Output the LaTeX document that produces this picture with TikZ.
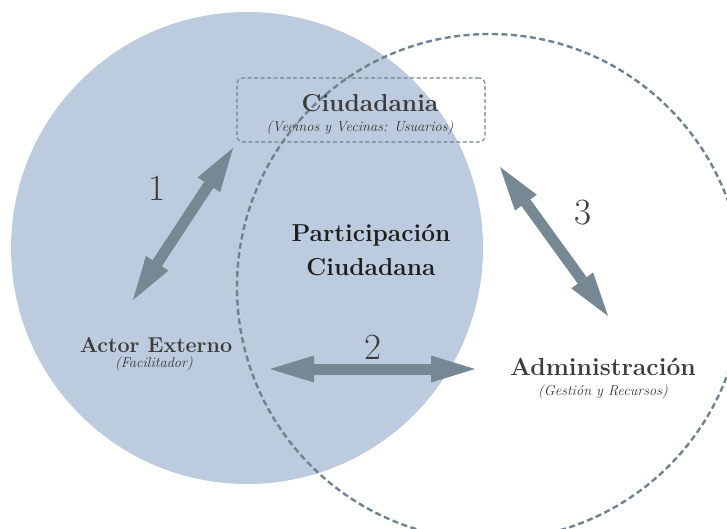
\documentclass[tikz,border=0pt]{standalone}
\usepackage{fontspec}
\usepackage{xcolor}
\usepackage{tikz}
\usetikzlibrary{calc, positioning, arrows.meta}

\definecolor{circleblue}{RGB}{188,204,222}
\definecolor{dashgray}{RGB}{112,130,144}
\definecolor{arrowgray}{RGB}{118,136,148}
\definecolor{textgray}{RGB}{60,60,60}
\definecolor{textdark}{RGB}{30,30,30}

\begin{document}
\begin{tikzpicture}[x=1pt, y=-1pt,
    every node/.style={inner sep=0pt, text=textgray},
    title/.style={font=\fontsize{24.5}{26}\selectfont\bfseries},
    sub/.style={font=\fontsize{14.4}{16}\selectfont\itshape, text=black!80},
    num/.style={font=\fontsize{37}{39}\selectfont},
    link/.style={line width=11pt, draw=arrowgray,
        {Triangle[length=44pt,width=27pt,line width=0pt]}-{Triangle[length=44pt,width=27pt,line width=0pt]}}]
    \useasboundingbox (0,0) rectangle (727,529);

    % The two circles
    \fill[circleblue] (247,248) circle[radius=236pt];
    \draw[dashgray, line width=2.4pt, dash pattern=on 6pt off 3.5pt] (490,287) circle[radius=253pt];

    % Ciudadania box
    \node[draw=dashgray, line width=1.1pt, dash pattern=on 4pt off 2.5pt, rounded corners=6pt,
          minimum width=248pt, minimum height=64pt] (ciudbox) at (361,110) {};
    \node[title] (ciud) at (370,103) {Ciudadania};
    \node[sub] (ciudsub) at (360,128) {(Vecinos y Vecinas: Usuarios)};

    % Centre label
    \node[title, text=textdark, align=center] (part) at (371,250)
        {Participación\\[8pt]Ciudadana};

    % Actors
    \node[title, font=\fontsize{21.5}{23}\selectfont\bfseries] (actor) at (156,345) {Actor Externo};
    \node[sub] (actorsub) at (154,364) {(Facilitador)};
    \node[title, font=\fontsize{24.7}{26}\selectfont\bfseries] (admin) at (603,367) {Administración};
    \node[sub] (adminsub) at (603,392) {(Gestión y Recursos)};

    % Relations
    \coordinate (a1s) at (133,300); \coordinate (a1e) at (233,148);
    \coordinate (a2s) at (270,369); \coordinate (a2e) at (475,369);
    \coordinate (a3s) at (500,167); \coordinate (a3e) at (608,316);
    \draw[link] (a1s) -- (a1e);
    \draw[link] (a2s) -- (a2e);
    \draw[link] (a3s) -- (a3e);
    \node[num] (n1) at (157,188) {1};
    \node[num] (n2) at (373,347) {2};
    \node[num] (n3) at (583,213) {3};
\end{tikzpicture}
\end{document}
